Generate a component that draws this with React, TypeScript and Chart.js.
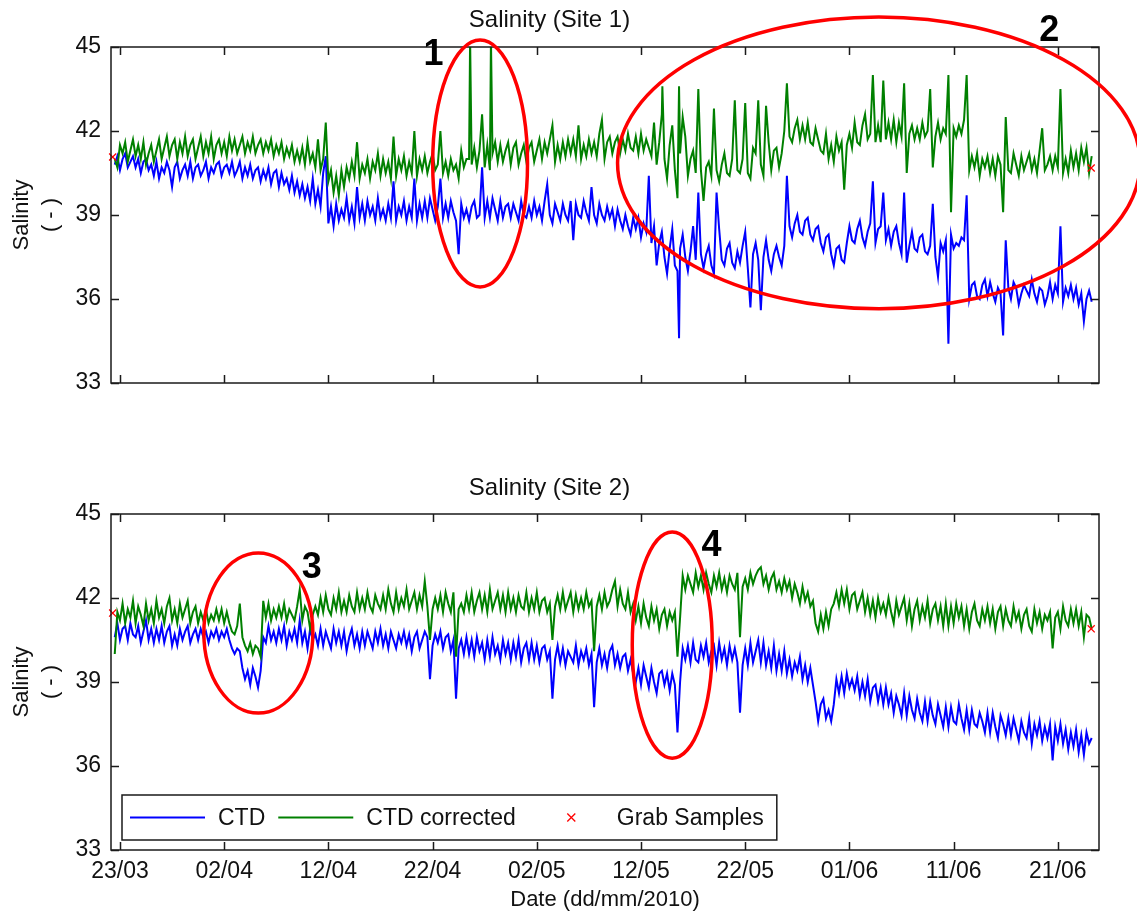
import React, { useEffect, useRef } from 'react';
import { Chart, registerables } from 'chart.js';

Chart.register(...registerables);

// Time axis: days since 23/03/2010, quarter-day samples starting at T0
const T0 = -0.5;
const STEP = 0.25;
const X_MIN = -0.86;
const X_MAX = 93.95;

const TICK_DAYS = [0, 10, 20, 30, 40, 50, 60, 70, 80, 90];
const TICK_LABELS = ['23/03', '02/04', '12/04', '22/04', '02/05', '12/05', '22/05', '01/06', '11/06', '21/06'];
const Y_TICKS = [33, 36, 39, 42, 45];
const Y_MIN = 33;
const Y_MAX = 45;

const LEGEND_LABELS = ['CTD', 'CTD corrected', 'Grab Samples'];
const TITLE_SITE1 = 'Salinity (Site 1)';
const TITLE_SITE2 = 'Salinity (Site 2)';
const Y_TITLE = ['Salinity', '( - )'];
const X_TITLE = 'Date (dd/mm/2010)';

// ---------- Site 1 (each row = 2 days, 8 samples) ----------
const SITE1_CTD = [
  40.8, 41.1, 40.6, 41.0, 41.2, 40.7, 40.9, 41.1,
  40.7, 41.0, 40.5, 40.9, 41.0, 40.6, 40.8, 40.4,
  40.9, 40.3, 40.7, 40.5, 40.9, 40.6, 40.0, 40.7,
  40.9, 40.3, 40.6, 40.8, 40.4, 40.9, 40.3, 40.7,
  40.8, 40.4, 40.6, 40.9, 40.3, 40.7, 40.5, 40.8,
  40.9, 40.4, 40.7, 40.8, 40.5, 40.9, 40.4, 40.6,
  40.9, 40.3, 40.7, 40.4, 40.8, 40.3, 40.6, 40.7,
  40.2, 40.6, 40.3, 40.7, 40.1, 40.5, 40.6, 40.0,
  40.5, 40.1, 40.3, 39.9, 40.4, 39.8, 40.2, 39.7,
  40.1, 39.6, 40.0, 39.5, 40.3, 39.4, 39.9, 39.3,
  40.5, 41.1, 38.7, 39.3, 38.6, 39.4, 38.8, 39.2,
  38.9, 39.6, 38.8, 39.3, 38.7, 40.0, 38.9, 39.4,
  38.8, 39.5, 39.0, 39.3, 38.8, 39.6, 38.9, 39.2,
  38.8, 39.4, 38.9, 40.2, 38.8, 39.3, 39.0, 39.5,
  38.8, 39.3, 38.9, 40.3, 38.8, 39.4, 38.9, 39.5,
  38.9, 39.6, 39.2, 38.8, 39.3, 40.3, 38.9, 39.4,
  38.9, 39.5, 39.1, 38.8, 37.6, 39.4, 38.9, 39.2,
  38.8, 39.3, 39.5, 38.9, 39.0, 40.7, 38.9, 39.5,
  38.9, 39.6, 39.2, 38.8, 39.5, 38.9, 39.3, 39.4,
  38.9, 39.4, 39.1, 38.8, 39.5, 39.0, 38.9, 39.3,
  38.9, 39.5, 39.0, 39.3, 38.8, 39.5, 40.1, 39.0,
  38.7, 39.4, 39.1, 38.8, 39.4, 39.0, 38.8, 39.5,
  38.1, 39.4, 39.0, 38.9, 39.5, 39.1, 38.8, 40.0,
  39.0, 38.7, 39.4, 39.0, 38.8, 39.3, 38.9, 39.2,
  38.6, 39.2, 38.8, 38.5, 39.0, 38.6, 38.3, 38.9,
  38.5, 38.9, 38.2, 38.7, 38.4, 40.4, 38.0, 38.6,
  37.2, 38.0, 38.4, 37.5, 36.9, 37.8, 38.5, 37.2,
  37.0, 37.8, 38.3, 37.5, 37.0, 37.7, 38.6, 37.4,
  39.8, 37.6, 37.1, 37.6, 37.9, 37.2, 36.9, 39.8,
  38.5, 37.4, 37.2, 37.8, 38.0, 37.3, 37.1, 37.7,
  37.3, 37.9, 38.4, 37.1, 35.7, 37.6, 38.0, 37.4,
  35.6, 37.5, 38.1, 37.4, 37.0, 37.6, 37.9, 37.5,
  37.2, 37.9, 40.4, 38.6, 38.2, 38.7, 39.0, 38.4,
  38.3, 38.8, 38.9, 38.3, 38.1, 38.5, 38.6, 38.0,
  37.7, 38.2, 38.3, 37.6, 37.2, 37.8, 37.9, 37.4,
  37.3, 38.0, 38.6, 38.1, 38.0, 38.5, 38.8, 38.2,
  37.9, 38.4, 38.7, 40.2, 38.0, 38.5, 38.6, 39.8,
  38.1, 38.5, 37.9, 38.4, 38.6, 38.0, 37.6, 39.8,
  37.3, 37.9, 38.4, 37.8, 37.7, 38.2, 38.3, 37.7,
  37.6, 37.9, 39.4, 37.5, 36.8, 38.0, 37.7, 38.1,
  34.4, 38.3, 37.8, 38.0, 37.9, 38.2, 38.1, 39.7,
  36.0, 36.5, 36.6, 36.1, 36.0, 36.5, 36.7, 36.1,
  36.6, 36.2, 35.9, 36.4, 36.2, 34.7, 38.1, 36.4,
  36.0, 36.6, 36.4, 35.8, 36.2, 36.5, 36.3, 36.1,
  36.7, 36.2, 35.9, 36.4, 36.3, 35.8, 36.1, 36.6,
  36.0, 36.5, 36.2, 38.6, 35.9, 36.4, 36.1, 36.5,
  36.0, 36.4, 35.8, 36.2, 35.2, 36.0, 36.3, 35.9,
];
const SITE1_CORR = [
  41.0, 40.7, 41.5, 41.2, 41.6, 40.9, 41.3, 41.7,
  41.1, 41.5, 41.0, 41.6, 40.8, 41.2, 41.5, 40.9,
  41.3, 41.7, 41.0, 41.4, 41.8, 41.1, 41.5, 41.7,
  41.0, 41.6, 41.2, 41.8, 41.1, 41.5, 41.7, 41.0,
  41.4, 41.8, 41.1, 41.6, 41.2, 41.8, 41.0, 41.5,
  41.7, 41.2, 41.6, 41.1, 41.8, 41.3, 41.7, 41.2,
  41.5, 41.8, 41.2, 41.6, 41.3, 41.8, 41.2, 41.5,
  41.7, 41.2, 41.6, 41.3, 41.7, 41.1, 41.5, 41.2,
  41.6, 41.0, 41.4, 41.1, 41.5, 40.9, 41.3, 40.9,
  41.4, 40.8, 41.6, 40.9, 41.2, 40.7, 41.7, 40.6,
  41.0, 42.3, 40.2, 40.6, 39.8, 40.4, 39.7, 40.6,
  40.0, 40.7, 40.3, 40.9, 40.4, 41.6, 40.3, 40.8,
  40.5, 41.0, 40.3, 40.9, 40.6, 41.2, 40.4, 41.0,
  40.5, 40.9, 40.3, 41.8, 40.4, 41.0, 40.6, 41.1,
  40.4, 40.9, 40.5, 42.0, 40.4, 41.0, 40.6, 41.1,
  40.5, 40.9, 41.2, 40.6, 40.8, 42.0, 40.5, 40.9,
  40.4, 41.0, 40.6, 40.8, 40.3, 41.3, 40.7, 41.0,
  41.0, 40.8, 41.4, 40.7, 41.3, 42.6, 40.7, 41.5,
  40.6, 41.2, 41.6, 40.9, 41.5, 40.9, 41.3, 41.6,
  40.8, 41.4, 41.6, 40.8, 41.2, 41.5, 40.9, 41.4,
  41.6, 40.9, 41.3, 41.7, 41.0, 41.6, 41.2, 41.7,
  42.2, 40.9, 41.5, 41.0, 41.6, 41.1, 41.7, 41.2,
  41.7, 41.1, 42.2, 41.0, 41.5, 41.1, 41.7, 41.2,
  41.6, 41.1, 41.9, 42.4, 41.0, 41.6, 41.8, 41.2,
  41.6, 41.8, 41.2, 41.7, 41.3, 41.9, 41.4, 41.3,
  41.8, 41.2, 41.9, 41.3, 41.7, 41.4, 41.1, 42.3,
  40.8, 41.6, 42.6, 41.0, 40.3, 41.5, 42.2, 40.6,
  39.6, 41.2, 42.5, 41.8, 40.4, 41.0, 41.3, 40.5,
  43.5, 40.6, 39.5, 40.7, 40.9, 40.4, 42.8, 40.6,
  40.2, 40.8, 41.2, 40.5, 40.4, 41.0, 43.1, 40.6,
  40.5, 41.0, 43.0, 40.5, 40.3, 41.4, 41.2, 43.1,
  40.8, 40.4, 42.9, 41.6, 40.6, 41.3, 41.4, 40.7,
  41.2, 42.0, 43.7, 41.8, 41.6, 42.1, 42.4, 41.7,
  42.2, 41.7, 42.3, 41.6, 41.5, 42.1, 41.7, 41.3,
  41.2, 41.9, 41.0, 41.5, 40.9, 41.8, 41.3, 41.6,
  39.9, 41.5, 41.9, 41.4, 42.3, 41.6, 41.5, 42.2,
  42.6, 41.7, 41.9, 44.0, 41.6, 42.2, 41.6, 43.8,
  41.7, 42.3, 41.7, 42.4, 41.6, 42.3, 41.8, 43.7,
  40.5, 41.9, 42.2, 41.7, 42.1, 41.7, 42.3, 41.8,
  42.0, 43.5, 40.7, 41.8, 42.3, 41.7, 42.1, 41.9,
  44.0, 39.1, 42.1, 41.8, 42.2, 41.9, 42.4, 44.0,
  40.6, 41.1, 40.7, 41.2, 40.4, 41.0, 40.7, 41.1,
  40.5, 41.0, 40.4, 41.1, 40.8, 39.1, 42.5, 40.6,
  40.5, 41.2, 40.8, 40.4, 41.1, 40.6, 40.9, 41.2,
  40.6, 41.0, 40.5, 41.3, 42.1, 40.6, 40.8, 41.1,
  40.6, 41.1, 40.7, 43.5, 40.5, 41.0, 40.5, 41.3,
  40.7, 41.2, 40.6, 41.4, 40.9, 41.4, 40.5, 41.1,
];
// isolated short spikes: [day, salinity]
const SITE1_CTD_SPIKES = [[53.65, 34.6]];
const SITE1_CORR_SPIKES = [[33.6, 45.3], [35.6, 45.3], [52.05, 43.6], [53.65, 43.6]];
const SITE1_GRAB = [[-0.7, 41.07], [93.2, 40.68]];

// ---------- Site 2 (each row = 2 days, 8 samples) ----------
const SITE2_CTD = [
  40.6, 41.1, 40.5, 40.9, 41.0, 40.5, 41.1, 40.7,
  40.6, 41.0, 40.4, 40.8, 41.2, 40.5, 40.9, 40.4,
  40.9, 40.5, 41.0, 40.4, 40.8, 41.0, 40.3, 40.7,
  40.3, 40.9, 40.5, 40.8, 41.0, 40.4, 40.7, 40.9,
  40.5, 40.9, 40.6, 40.8, 40.4, 40.8, 40.6, 40.9,
  40.5, 40.8, 40.6, 40.9, 40.5, 40.2, 40.0, 40.2,
  40.1, 39.5, 39.1, 39.4, 38.9, 39.5, 39.2, 38.8,
  39.4, 40.6, 40.4, 41.0, 40.5, 40.8, 40.4, 40.9,
  40.5, 41.0, 40.3, 40.8, 40.5, 40.9, 40.4, 41.2,
  40.4, 40.8, 40.2, 40.9, 40.5, 40.7, 40.3, 40.9,
  40.3, 40.8, 40.5, 40.2, 40.9, 40.4, 40.8, 40.3,
  40.8, 40.1, 40.6, 40.9, 40.3, 40.7, 40.2, 40.8,
  40.3, 40.8, 40.5, 40.2, 40.8, 40.4, 40.9, 40.3,
  40.7, 40.2, 40.8, 40.5, 40.2, 40.7, 40.4, 40.8,
  40.3, 40.7, 40.1, 40.6, 40.8, 40.2, 40.5, 40.8,
  40.6, 39.1, 40.3, 40.7, 40.4, 40.8, 40.2, 40.6,
  40.7, 40.1, 40.5, 38.4, 40.2, 40.5, 40.0, 40.6,
  40.0, 40.5, 39.9, 40.6, 40.1, 40.4, 39.8, 40.5,
  39.9, 40.6, 40.0, 40.3, 39.8, 40.5, 40.0, 40.4,
  39.8, 40.4, 39.9, 40.5, 39.7, 40.2, 40.4, 39.8,
  40.4, 39.8, 40.3, 39.7, 40.2, 40.3, 39.8, 40.1,
  38.4, 39.8, 40.3, 39.7, 40.2, 39.6, 40.1, 39.9,
  39.7, 40.3, 39.6, 40.1, 39.8, 40.2, 39.6, 40.0,
  38.1, 39.7, 40.2, 39.6, 40.0, 39.5, 40.1, 40.3,
  39.6, 40.0, 39.5, 39.9, 40.0, 39.4, 39.8, 39.3,
  39.0, 39.5, 38.9, 39.6, 39.2, 38.8, 39.5, 39.0,
  38.6, 39.3, 39.4, 38.9, 39.3, 38.7, 39.3, 38.9,
  37.2, 39.0, 40.2, 39.8, 40.3, 39.7, 40.4, 39.8,
  39.7, 40.3, 39.9, 40.4, 39.7, 40.1, 40.3, 39.6,
  40.4, 39.8, 40.2, 39.6, 40.3, 39.8, 40.2, 39.7,
  37.9, 39.6, 40.2, 39.6, 40.4, 39.7, 40.1, 40.5,
  39.7, 40.4, 39.6, 40.1, 39.5, 40.3, 39.4, 40.0,
  39.4, 40.1, 39.3, 39.8, 39.2, 39.7, 39.4, 39.9,
  39.1, 39.6, 39.0, 39.5, 38.9, 38.3, 37.6, 38.2,
  38.4, 37.7, 38.0, 37.6, 38.2, 39.1, 38.6, 39.2,
  38.6, 39.3, 38.8, 39.1, 38.7, 39.2, 38.5, 39.0,
  38.5, 39.1, 38.3, 38.8, 38.9, 38.3, 38.8, 38.2,
  38.8, 38.2, 38.6, 37.9, 38.5, 38.2, 37.8, 38.6,
  37.8, 38.5, 38.0, 37.7, 38.4, 37.9, 37.6, 38.3,
  37.6, 38.3, 37.8, 37.5, 38.2, 37.8, 37.4, 38.1,
  37.4, 38.1, 37.6, 37.5, 38.2, 37.7, 37.3, 38.0,
  37.3, 38.0, 37.5, 37.4, 37.9, 37.6, 37.2, 37.9,
  37.2, 37.9, 37.4, 37.0, 37.8, 37.5, 37.1, 37.7,
  37.1, 37.7, 37.3, 36.9, 37.6, 37.2, 37.0, 37.7,
  36.8, 37.5, 37.1, 37.6, 36.9, 37.4, 37.0, 37.5,
  36.2, 37.4, 36.9, 37.5, 36.8, 37.3, 36.6, 37.2,
  36.7, 37.3, 36.5, 37.1, 36.4, 37.2, 36.8, 37.0,
];
const SITE2_CORR = [
  40.0, 41.5, 41.2, 41.8, 41.1, 41.6, 41.3, 41.9,
  41.1, 41.7, 41.4, 41.0, 41.8, 41.2, 41.6, 41.1,
  41.9, 41.3, 41.6, 41.1, 41.7, 42.0, 41.2, 41.6,
  41.1, 41.8, 41.3, 41.6, 41.9, 41.1, 41.5, 41.7,
  41.1, 41.5, 41.2, 41.6, 41.1, 41.4, 41.2, 41.6,
  41.2, 41.6, 41.1, 41.5, 41.1, 40.8, 40.7, 41.0,
  41.8, 40.6, 40.3, 40.1, 40.4, 40.0, 40.3, 40.2,
  39.9, 41.9, 41.3, 41.8, 41.2, 41.6, 41.3, 41.7,
  41.3, 41.8, 41.2, 41.6, 41.4, 41.2, 41.7, 42.3,
  41.2, 41.7, 41.5, 40.9, 41.4, 41.7, 41.4, 42.0,
  41.5, 42.1, 41.6, 41.4, 42.0, 41.6, 42.2, 41.5,
  41.9, 41.5, 42.1, 41.7, 41.5, 42.2, 41.6, 42.0,
  41.6, 42.2, 41.7, 41.5, 42.1, 41.8, 41.6, 42.1,
  41.6, 42.3, 41.8, 41.5, 42.2, 41.6, 42.0, 41.7,
  42.3, 41.6, 41.9, 42.2, 41.6, 42.1, 41.7, 42.6,
  41.7, 40.5, 41.6, 42.0, 41.6, 42.1, 41.5, 42.2,
  41.8, 41.5, 42.2, 39.9, 41.6, 41.8, 41.5, 42.1,
  41.6, 42.2, 41.5, 41.9, 42.2, 41.6, 42.1, 41.5,
  42.3, 41.6, 41.9, 42.2, 41.6, 42.1, 41.5, 42.2,
  41.6, 42.0, 41.5, 42.1, 41.7, 41.6, 42.2, 41.5,
  42.0, 41.6, 42.2, 41.5, 41.9, 42.0, 41.5, 41.8,
  40.5, 41.7, 42.1, 41.6, 42.2, 41.6, 41.9, 42.2,
  41.5, 42.1, 41.6, 42.0, 41.6, 42.2, 41.7, 41.9,
  40.1, 41.7, 42.1, 41.6, 42.2, 41.7, 41.9, 42.3,
  42.6, 41.7, 42.3, 41.8, 41.6, 42.2, 41.5, 41.8,
  41.2, 41.7, 41.1, 41.8, 41.3, 41.0, 41.7, 41.2,
  41.6, 40.9, 41.4, 41.6, 41.0, 41.5, 41.2, 41.5,
  39.9, 41.3, 42.8, 42.3, 42.8, 42.5, 42.2, 42.9,
  42.4, 42.8, 42.3, 42.9, 42.5, 42.2, 42.8, 42.4,
  42.9, 42.3, 42.7, 42.2, 42.8, 42.5, 42.3, 42.9,
  40.6, 42.4, 42.7, 42.3, 42.9, 42.5, 42.8, 43.0,
  43.1, 42.5, 42.8, 42.3, 42.7, 42.9, 42.3, 42.6,
  42.2, 42.7, 42.3, 42.6, 42.0, 42.5, 42.2, 41.8,
  42.4, 41.9, 42.2, 41.7, 41.9, 41.1, 40.8, 41.4,
  40.9, 41.5, 41.0, 41.6, 41.8, 42.2, 41.7, 42.3,
  41.8, 42.3, 41.6, 42.1, 42.2, 41.6, 41.9, 42.2,
  41.5, 42.0, 41.4, 41.9, 41.3, 42.0, 41.5, 41.8,
  41.4, 42.0, 41.5, 41.1, 41.9, 41.4, 41.7, 42.0,
  41.2, 41.8, 41.0, 41.6, 41.9, 41.2, 41.7, 41.3,
  41.9, 41.1, 41.6, 41.8, 41.2, 41.7, 41.0, 41.8,
  41.0, 41.7, 41.1, 41.8, 41.3, 41.7, 41.0, 41.6,
  40.9, 41.5, 41.8, 41.2, 41.0, 41.6, 41.2, 41.7,
  41.1, 41.6, 40.9, 41.5, 41.7, 41.0, 41.6, 41.2,
  41.0, 41.7, 41.2, 41.5, 40.9, 41.4, 41.6, 41.0,
  40.8, 41.6, 41.1, 41.5, 40.9, 41.4, 41.2, 41.5,
  40.2, 41.3, 41.5, 40.9, 41.7, 41.2, 41.0, 41.6,
  41.1, 41.6, 41.0, 41.5, 40.6, 41.4, 41.3, 40.9,
];
const SITE2_CTD_SPIKES: number[][] = [];
const SITE2_CORR_SPIKES: number[][] = [];
const SITE2_GRAB = [[-0.7, 41.46], [93.2, 40.9]];

// Hand-drawn highlight ellipses (data units) and their numbers
const MARKS_SITE1 = [
  { label: '1', cx: 34.56, cy: 40.84, rx: 4.55, ry: 4.41, lx: 30.1, ly: 44.71 },
  { label: '2', cx: 72.82, cy: 40.86, rx: 25.07, ry: 5.21, lx: 89.17, ly: 45.57 },
];
const MARKS_SITE2 = [
  { label: '3', cx: 13.28, cy: 40.75, rx: 5.23, ry: 2.86, lx: 18.41, ly: 43.07 },
  { label: '4', cx: 53.0, cy: 40.32, rx: 3.84, ry: 4.04, lx: 56.76, ly: 43.86 },
];

const FONT = "'Liberation Sans', Arial, sans-serif";
const TEXT = '#111111';
const BLUE = '#0000ff';
const GREEN = '#008000';
const RED = '#ff0000';

function seriesPoints(values: number[], spikes: number[][]) {
  const pts = values.map((v, i) => ({ x: T0 + i * STEP, y: v }));
  spikes.forEach(([x, y]) => pts.push({ x, y }));
  pts.sort((a, b) => a.x - b.x);
  return pts;
}

const framePlugin = {
  id: 'matlabFrame',
  afterDatasetsDraw(chart: any) {
    const { ctx, chartArea: a, scales } = chart;
    const xs = scales.x;
    const ys = scales.y;
    ctx.save();
    ctx.strokeStyle = '#1a1a1a';
    ctx.lineWidth = 1.5;
    ctx.strokeRect(a.left, a.top, a.right - a.left, a.bottom - a.top);
    ctx.beginPath();
    TICK_DAYS.forEach((d) => {
      const px = Math.round(xs.getPixelForValue(d)) + 0.5;
      ctx.moveTo(px, a.bottom);
      ctx.lineTo(px, a.bottom - 8);
      ctx.moveTo(px, a.top);
      ctx.lineTo(px, a.top + 8);
    });
    Y_TICKS.forEach((v) => {
      const py = Math.round(ys.getPixelForValue(v)) + 0.5;
      ctx.moveTo(a.left, py);
      ctx.lineTo(a.left + 8, py);
      ctx.moveTo(a.right, py);
      ctx.lineTo(a.right - 8, py);
    });
    ctx.stroke();
    ctx.restore();
  },
};

const legendPlugin = {
  id: 'matlabLegend',
  afterDraw(chart: any) {
    if (!chart.options.plugins.matlabLegend || !chart.options.plugins.matlabLegend.show) return;
    const { ctx, chartArea: a } = chart;
    ctx.save();
    ctx.font = `23px ${FONT}`;
    const left = a.left + 11;
    const bottom = a.bottom - 10;
    const h = 45;
    const top = bottom - h;
    const cy = top + h / 2;
    const lineLen = 75;
    const gap = 13;
    let width = 8;
    LEGEND_LABELS.forEach((t) => {
      width += lineLen + gap + ctx.measureText(t).width + gap;
    });
    ctx.fillStyle = '#ffffff';
    ctx.fillRect(left, top, width, h);
    ctx.strokeStyle = '#1a1a1a';
    ctx.lineWidth = 1.5;
    ctx.strokeRect(left, top, width, h);
    let x = left + 8;
    LEGEND_LABELS.forEach((t, i) => {
      if (i < 2) {
        ctx.strokeStyle = i === 0 ? BLUE : GREEN;
        ctx.lineWidth = 2;
        ctx.beginPath();
        ctx.moveTo(x, cy);
        ctx.lineTo(x + lineLen, cy);
        ctx.stroke();
      } else {
        const mx = x + lineLen / 2 + 5;
        ctx.strokeStyle = RED;
        ctx.lineWidth = 1.3;
        ctx.beginPath();
        ctx.moveTo(mx - 4, cy - 4);
        ctx.lineTo(mx + 4, cy + 4);
        ctx.moveTo(mx + 4, cy - 4);
        ctx.lineTo(mx - 4, cy + 4);
        ctx.stroke();
      }
      ctx.fillStyle = TEXT;
      ctx.textAlign = 'left';
      ctx.textBaseline = 'middle';
      ctx.fillText(t, x + lineLen + gap, cy + 1);
      x += lineLen + gap + ctx.measureText(t).width + gap;
    });
    ctx.restore();
  },
};

const marksPlugin = {
  id: 'highlightMarks',
  afterDraw(chart: any) {
    const cfg = chart.options.plugins.highlightMarks;
    if (!cfg || !cfg.marks) return;
    const { ctx, scales } = chart;
    const xs = scales.x;
    const ys = scales.y;
    ctx.save();
    cfg.marks.forEach((m: any) => {
      const cx = xs.getPixelForValue(m.cx);
      const cy = ys.getPixelForValue(m.cy);
      const rx = Math.abs(xs.getPixelForValue(m.cx + m.rx) - cx);
      const ry = Math.abs(ys.getPixelForValue(m.cy + m.ry) - cy);
      ctx.strokeStyle = RED;
      ctx.lineWidth = 3.5;
      ctx.beginPath();
      ctx.ellipse(cx, cy, rx, ry, 0, 0, Math.PI * 2);
      ctx.stroke();
      ctx.fillStyle = '#000000';
      ctx.font = `bold 36px ${FONT}`;
      ctx.textAlign = 'center';
      ctx.textBaseline = 'middle';
      ctx.fillText(m.label, xs.getPixelForValue(m.lx), ys.getPixelForValue(m.ly));
    });
    ctx.restore();
  },
};

function makeConfig(opts: any) {
  const { title, ctd, corr, ctdSpikes, corrSpikes, grab, marks, showXLabels, titlePad, xHeight } = opts;
  return {
    type: 'line',
    data: {
      datasets: [
        {
          label: LEGEND_LABELS[0],
          data: seriesPoints(ctd, ctdSpikes),
          borderColor: BLUE,
          borderWidth: 2,
          pointRadius: 0,
          tension: 0,
          order: 2,
        },
        {
          label: LEGEND_LABELS[1],
          data: seriesPoints(corr, corrSpikes),
          borderColor: GREEN,
          borderWidth: 2,
          pointRadius: 0,
          tension: 0,
          order: 1,
        },
        {
          label: LEGEND_LABELS[2],
          data: grab.map(([x, y]: number[]) => ({ x, y })),
          showLine: false,
          pointStyle: 'crossRot',
          pointRadius: 5,
          borderColor: RED,
          backgroundColor: RED,
          borderWidth: 1.3,
          order: 0,
          clip: false,
        },
      ],
    },
    options: {
      responsive: false,
      animation: false,
      devicePixelRatio: 1,
      events: [],
      layout: { padding: { left: 0, right: 38, top: 0, bottom: 0 } },
      plugins: {
        legend: { display: false },
        tooltip: { enabled: false },
        title: {
          display: true,
          text: title,
          color: TEXT,
          font: { family: FONT, size: 24, weight: 'normal', lineHeight: 1.2 },
          padding: titlePad,
        },
        matlabLegend: { show: showXLabels },
        highlightMarks: { marks },
      },
      scales: {
        x: {
          type: 'linear',
          min: X_MIN,
          max: X_MAX,
          afterBuildTicks: (s: any) => {
            s.ticks = TICK_DAYS.map((v) => ({ value: v }));
          },
          ticks: {
            display: showXLabels,
            callback: (v: number) => TICK_LABELS[TICK_DAYS.indexOf(v)],
            font: { family: FONT, size: 23 },
            color: TEXT,
            padding: 8,
            maxRotation: 0,
            autoSkip: false,
          },
          grid: { display: false, drawTicks: false },
          border: { display: false },
          title: {
            display: showXLabels,
            text: X_TITLE,
            color: TEXT,
            font: { family: FONT, size: 22, lineHeight: 1.2 },
            padding: { top: 0, bottom: 3 },
          },
          afterFit: (s: any) => {
            s.height = xHeight;
          },
        },
        y: {
          type: 'linear',
          min: Y_MIN,
          max: Y_MAX,
          afterBuildTicks: (s: any) => {
            s.ticks = Y_TICKS.map((v) => ({ value: v }));
          },
          ticks: {
            font: { family: FONT, size: 23 },
            color: TEXT,
            padding: 10,
          },
          grid: { display: false, drawTicks: false },
          border: { display: false },
          title: {
            display: true,
            text: Y_TITLE,
            color: TEXT,
            font: { family: FONT, size: 22, lineHeight: 1.3 },
            padding: { top: 8, bottom: 0 },
          },
          afterFit: (s: any) => {
            s.width = 111;
          },
        },
      },
    },
    plugins: [framePlugin, legendPlugin, marksPlugin],
  };
}

export default function App() {
  const ref1 = useRef<HTMLCanvasElement>(null);
  const ref2 = useRef<HTMLCanvasElement>(null);

  useEffect(() => {
    const c1 = new Chart(
      ref1.current as HTMLCanvasElement,
      makeConfig({
        title: TITLE_SITE1,
        ctd: SITE1_CTD,
        corr: SITE1_CORR,
        ctdSpikes: SITE1_CTD_SPIKES,
        corrSpikes: SITE1_CORR_SPIKES,
        grab: SITE1_GRAB,
        marks: MARKS_SITE1,
        showXLabels: false,
        titlePad: { top: 5.6, bottom: 12.6 },
        xHeight: 67,
      }) as any
    );
    const c2 = new Chart(
      ref2.current as HTMLCanvasElement,
      makeConfig({
        title: TITLE_SITE2,
        ctd: SITE2_CTD,
        corr: SITE2_CORR,
        ctdSpikes: SITE2_CTD_SPIKES,
        corrSpikes: SITE2_CORR_SPIKES,
        grab: SITE2_GRAB,
        marks: MARKS_SITE2,
        showXLabels: true,
        titlePad: { top: 23.6, bottom: 11.6 },
        xHeight: 66,
      }) as any
    );
    return () => {
      c1.destroy();
      c2.destroy();
    };
  }, []);

  return (
    <div style={{ position: 'absolute', left: 0, top: 0, width: 1137, height: 916, background: '#ffffff', overflow: 'hidden' }}>
      <canvas ref={ref1} width={1137} height={450} style={{ position: 'absolute', left: 0, top: 0, width: 1137, height: 450 }} />
      <canvas ref={ref2} width={1137} height={466} style={{ position: 'absolute', left: 0, top: 450, width: 1137, height: 466 }} />
    </div>
  );
}
